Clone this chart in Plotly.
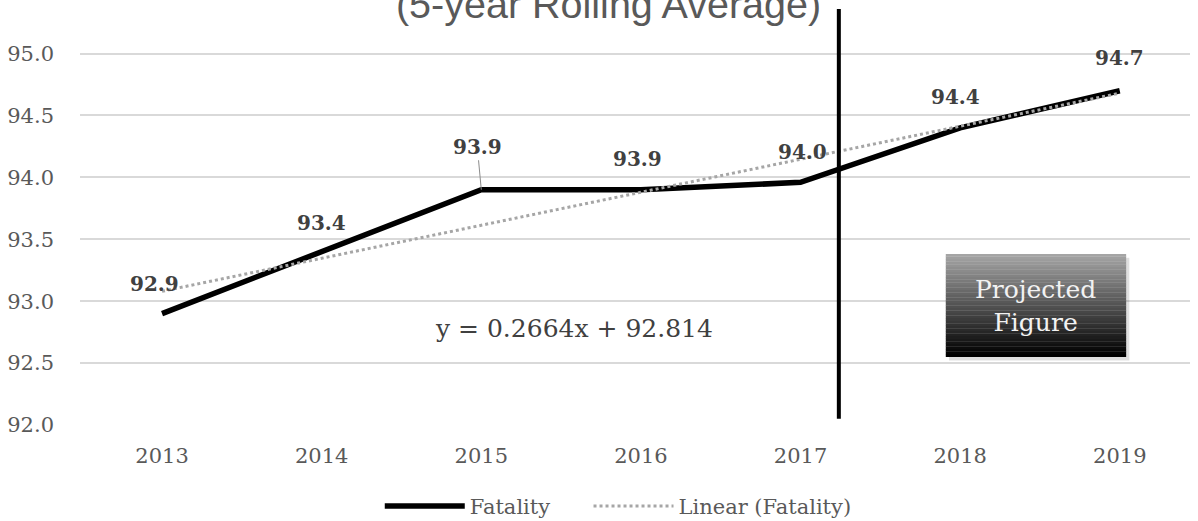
import plotly.graph_objects as go

# ---- data ----
years = [2013, 2014, 2015, 2016, 2017, 2018, 2019]
fatality = [92.9, 93.4, 93.9, 93.9, 93.96, 94.4, 94.7]
fatality_labels = ["92.9", "93.4", "93.9", "93.9", "94.0", "94.4", "94.7"]
trend_years = [2013, 2019]
trend_values = [93.08, 94.68]
y_ticks = [92.0, 92.5, 93.0, 93.5, 94.0, 94.5, 95.0]
title_text = "(5-year Rolling Average)"
equation_text = "y = 0.2664x + 92.814"
projection_year = 2017.24
box_text = "Projected<br>Figure"
series_names = ["Fatality", "Linear (Fatality)"]

# label offsets (pixels) relative to each point
label_dx = [-8, 0, -4, -3, 2, -5, 0]
label_dy = [30, 29, 43, 31, 30, 31, 33]

SERIF = "DejaVu Serif"
TXT = "#595959"
NBSP = "\u00a0"

fig = go.Figure()

fig.add_trace(go.Scatter(
    x=years, y=fatality, mode="lines", name=series_names[0] + NBSP * 5,
    line=dict(color="black", width=5.5),
))
fig.add_trace(go.Scatter(
    x=trend_years, y=trend_values, mode="lines", name=series_names[1],
    line=dict(color="#a6a6a6", width=3, dash="dot"),
))

# data labels
for i, (x, y, t) in enumerate(zip(years, fatality, fatality_labels)):
    leader = (i == 2)
    fig.add_annotation(
        x=x, y=y, xref="x", yref="y", text=f"<b>{t}</b>",
        showarrow=leader, arrowhead=0, arrowwidth=1, arrowcolor="#8c8c8c",
        ax=label_dx[i], ay=-label_dy[i], standoff=0,
        xshift=0 if leader else label_dx[i], yshift=0 if leader else label_dy[i],
        font=dict(family=SERIF, size=20, color="#404040"),
    )

# projection divider
fig.add_shape(type="line", xref="x", yref="y",
              x0=projection_year, x1=projection_year, y0=92.05, y1=95.36,
              line=dict(color="black", width=4))

# "Projected Figure" box with vertical gradient (stacked bands)
bx0, bx1, by0, by1 = 2017.91, 2019.04, 92.55, 93.38
n = 40
fig.add_shape(type="rect", xref="x", yref="y",
              x0=bx0 + 0.02, x1=bx1 + 0.02, y0=by0 - 0.03, y1=by1 - 0.03,
              line=dict(width=0), fillcolor="rgba(0,0,0,0.12)")
for k in range(n):
    f = k / (n - 1)
    g = int(165 * f)
    ya = by0 + (by1 - by0) * k / n
    yb = by0 + (by1 - by0) * (k + 1) / n
    fig.add_shape(type="rect", xref="x", yref="y", x0=bx0, x1=bx1, y0=ya, y1=yb + 0.002,
                  line=dict(width=0), fillcolor=f"rgb({g},{g},{g})")
fig.add_annotation(x=(bx0 + bx1) / 2, y=(by0 + by1) / 2, xref="x", yref="y",
                   text=box_text, showarrow=False,
                   font=dict(family=SERIF, size=25, color="#f2f2f2"))

# trendline equation
fig.add_annotation(x=2015.58, y=92.78, xref="x", yref="y", text=equation_text,
                   showarrow=False, font=dict(family=SERIF, size=25, color="#404040"))

fig.update_layout(
    width=1198, height=521,
    margin=dict(l=80, r=8, t=9, b=96, autoexpand=False),
    paper_bgcolor="white", plot_bgcolor="white",
    title=dict(text=title_text, x=0.508, xanchor="center", y=0.992, yanchor="middle",
               yref="container",
               font=dict(family="Liberation Sans", size=39.5, color=TXT)),
    showlegend=True,
    legend=dict(orientation="h", xref="container", yref="container",
                x=0.317, xanchor="left", y=0.028, yanchor="middle",
                font=dict(family=SERIF, size=21, color=TXT), itemwidth=80,
                bgcolor="rgba(0,0,0,0)"),
    xaxis=dict(range=[2012.486, 2019.44], tickvals=years, ticktext=[str(y) for y in years],
               showgrid=False, zeroline=False, showline=False, ticks="",
               ticklabelstandoff=16, automargin=False,
               tickfont=dict(family=SERIF, size=21, color=TXT)),
    yaxis=dict(range=[92.0, 95.36], tickvals=y_ticks, ticktext=[f"{v:.1f}" for v in y_ticks],
               showgrid=True, gridcolor="#d9d9d9", gridwidth=1.5, zeroline=False,
               showline=False, ticks="", ticklabelstandoff=25, automargin=False,
               tickfont=dict(family=SERIF, size=21, color=TXT)),
)

fig.write_html("out.html", config={"displayModeBar": False},
               post_script="document.body.style.margin='0';document.body.style.overflow='hidden';")
